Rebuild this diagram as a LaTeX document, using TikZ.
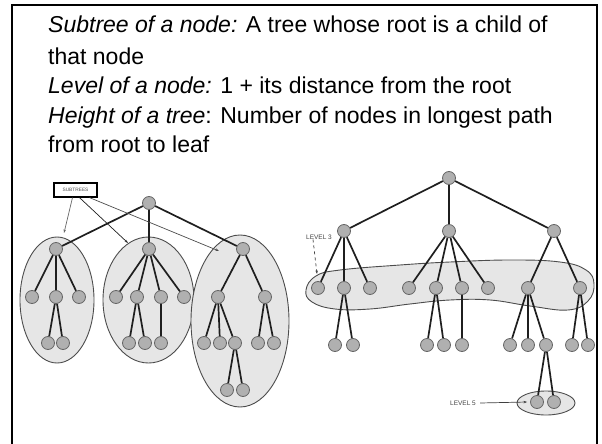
\documentclass[tikz,border=0pt]{standalone}
\usepackage{fontspec}
\setmainfont{Liberation Sans}
\usetikzlibrary{arrows.meta}
\definecolor{vertgray}{HTML}{B0B0B0}
\definecolor{blobgray}{HTML}{E6E6E6}
\definecolor{inkdark}{HTML}{1F1F1F}

\begin{document}
\begin{tikzpicture}[
    x=1pt, y=-1pt,
    >=Stealth,
    vert/.style={
        circle, draw=black!60, fill=vertgray, line width=0.8pt,
        minimum size=13pt, inner sep=0pt
    },
    branch/.style={line width=1.7pt, color=inkdark},
    blob/.style={draw=black!70, fill=blobgray, line width=0.9pt},
    defn/.style={anchor=base west, inner sep=0pt, font=\fontsize{23}{28}\selectfont},
    levtag/.style={font=\fontsize{6.5}{7}\selectfont, text=black!75, inner sep=0pt},
    pointer/.style={-{Stealth[length=3.5pt,width=2.5pt]}, line width=0.7pt, color=black!60},
]
\useasboundingbox (0,0) rectangle (602,444);

% === Slide frame ===
\draw[line width=2pt] (12,444) |- (597,5) -- (597,444);

% === Definitions ===
\node[defn] (d1) at (48,33) {{\itshape Subtree of a node:} A tree whose root is a child of};
\node[defn] (d2) at (48,64) {that node};
\node[defn] (d3) at (48,93) {{\itshape Level of a node:} 1 + its distance from the root};
\node[defn] (d4) at (48,123) {{\itshape Height of a tree}: Number of nodes in longest path};
\node[defn] (d5) at (48,152) {from root to leaf};

% === Shaded regions ===
\draw[blob] (57,300) ellipse [x radius=37pt, y radius=63pt];
\draw[blob] (148.5,300) ellipse [x radius=45.5pt, y radius=63pt];
\draw[blob] (240,321) ellipse [x radius=49pt, y radius=86pt];
\draw[blob] plot[smooth cycle, tension=0.7] coordinates {
    (306,290) (316,276) (340,270) (400,265) (450,262) (510,260) (560,262)
    (586,270) (594,284) (588,301) (568,310) (530,306) (490,300) (450,300)
    (410,304) (370,309) (335,309) (312,302)};
\draw[blob] (546,403) ellipse [x radius=29pt, y radius=12pt];

% === Left tree: subtrees ===
\foreach \n/\x/\y in {
    s/149/203,
    sa/56/249, sb/149/249, sc/243/249,
    sa1/32/297, sa2/56/297, sa3/79/297,
    sb1/116/297, sb2/137/297, sb3/161/297, sb4/184/297,
    sc1/218/297, sc2/265/297,
    sa21/48/343, sa22/63/343,
    sb21/129/343, sb22/145/343, sb31/161/343,
    sc11/204/343, sc12/220/343, sc13/235/343, sc21/258/343, sc22/274/343,
    sc131/227/390, sc132/243/390}
    \node[vert] (\n) at (\x,\y) {};

\foreach \p/\c in {s/sa, s/sb, s/sc,
    sa/sa1, sa/sa2, sa/sa3, sa2/sa21, sa2/sa22,
    sb/sb1, sb/sb2, sb/sb3, sb/sb4, sb2/sb21, sb2/sb22, sb3/sb31,
    sc/sc1, sc/sc2, sc1/sc11, sc1/sc12, sc1/sc13, sc2/sc21, sc2/sc22,
    sc13/sc131, sc13/sc132}
    \draw[branch] (\p) -- (\c);

% Subtrees label and its pointers
\node[draw, line width=1.2pt, minimum width=43pt, minimum height=14pt, inner sep=0pt,
    font=\fontsize{4.8}{5}\selectfont, text=black!70] (subtrees) at (75.5,190) {SUBTREES};
\coordinate (top1) at (64,233);
\coordinate (top2) at (128,243);
\coordinate (top3) at (219,251);
\draw[pointer] ([xshift=-3pt]subtrees.south) -- (top1);
\draw[pointer, color=inkdark] ([xshift=4pt]subtrees.south) -- (top2);
\draw[pointer, color=black!70] ([xshift=14pt]subtrees.south) -- (top3);

% === Right tree: levels ===
\foreach \n/\x/\y in {
    t/449/178,
    ta/344/231, tb/449/231, tc/554/231,
    ta1/318/288, ta2/344/288, ta3/370/288,
    tb1/409/288, tb2/436/288, tb3/462/288, tb4/488/288,
    tc1/528/288, tc2/580/288,
    ta21/335/345, ta22/353/345,
    tb21/427/345, tb22/444/345, tb31/462/345,
    tc11/510/345, tc12/528/345, tc13/546/345, tc21/572/345, tc22/588/345,
    tc131/537/402, tc132/554/402}
    \node[vert] (\n) at (\x,\y) {};

\foreach \p/\c in {t/ta, t/tb, t/tc,
    ta/ta1, ta/ta2, ta/ta3, ta2/ta21, ta2/ta22,
    tb/tb1, tb/tb2, tb/tb3, tb/tb4, tb2/tb21, tb2/tb22, tb3/tb31,
    tc/tc1, tc/tc2, tc1/tc11, tc1/tc12, tc1/tc13, tc2/tc21, tc2/tc22,
    tc13/tc131, tc13/tc132}
    \draw[branch] (\p) -- (\c);

% Level markers
\node[levtag] (lev3) at (319,237) {LEVEL 3};
\coordinate (lev3end) at (317,274);
\draw[pointer, dashed, color=black!75] ([xshift=-6pt]lev3.south) -- (lev3end);

\node[levtag] (lev5) at (463,403) {LEVEL 5};
\draw[pointer, color=black!75] ([xshift=4pt]lev5.east) -- ([xshift=-3pt]tc131.west);

\end{tikzpicture}
\end{document}
